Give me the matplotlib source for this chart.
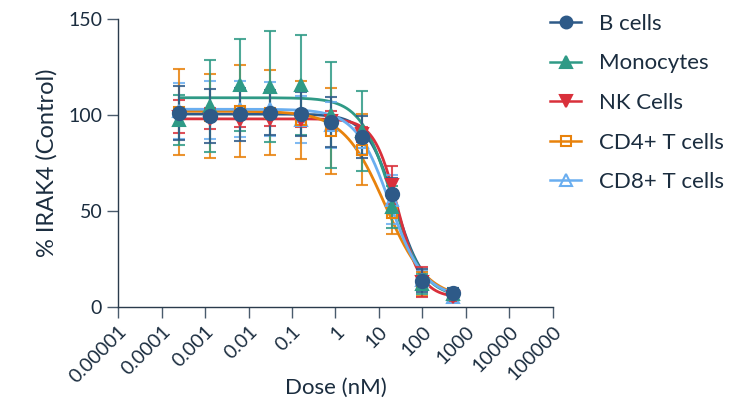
import numpy as np
import matplotlib
matplotlib.use('Agg')
import matplotlib.pyplot as plt

plt.rcParams['font.family'] = ['Lato', 'DejaVu Sans']

# doses (nM), 5-fold dilution series
dose = [0.000256, 0.00128, 0.0064, 0.032, 0.16, 0.8, 4, 20, 100, 500]

b_mean = [101, 99.5, 100.3, 101.2, 100.5, 96.5, 88.4, 58.7, 13.7, 7.5]
b_err = [14, 14, 13.7, 11.7, 11.6, 13, 11, 8.5, 6, 2.5]
mono_mean = [97.4, 104.7, 115.6, 114.7, 115.6, 100, 91.7, 52, 12, 7]
mono_err = [13, 24, 24, 29, 26, 27.5, 21, 11, 5, 3]
nk_mean = [99, 98, 97.5, 98, 97.5, 97, 90, 63.5, 13, 5]
nk_err = [8.6, 5.5, 4, 3.5, 4, 5, 4, 10, 8, 2]
cd4_mean = [101.7, 99.6, 102.3, 101.3, 97.2, 91.7, 82, 49, 12, 6.5]
cd4_err = [22.5, 22, 24, 22, 20.3, 22.5, 18.5, 11, 6, 2]
cd8_mean = [102, 102.5, 103, 103, 97.6, 95, 86, 56, 14, 5]
cd8_err = [14.5, 15, 14.5, 14, 12.4, 12, 6.5, 13, 5, 2]

# 4PL fit parameters: top, bottom, IC50 (nM), hill
b_fit = [100.5, 6, 24, 1.3]
mono_fit = [109, 5, 20, 1.2]
nk_fit = [98, 5, 27, 1.6]
cd4_fit = [102, 4, 14, 0.9]
cd8_fit = [103, 5, 18, 1.1]

labels = ['B cells', 'Monocytes', 'NK Cells', 'CD4+ T cells', 'CD8+ T cells']
colors = ['#2e5a88', '#2f9a86', '#d9303b', '#e8820c', '#6aaef0']

series = [
    (b_mean, b_err, b_fit, 'o', True, 9.5),
    (mono_mean, mono_err, mono_fit, '^', True, 8.5),
    (nk_mean, nk_err, nk_fit, 'v', True, 8.5),
    (cd4_mean, cd4_err, cd4_fit, 's', False, 7.5),
    (cd8_mean, cd8_err, cd8_fit, '^', False, 8),
]

txt = '#1b2d3f'
fig = plt.figure(figsize=(7.34, 4.04), dpi=100)
ax = fig.add_axes([0.161, 0.240, 0.592, 0.713])

xs = np.logspace(np.log10(dose[0]), np.log10(dose[-1]), 300)
handles = []
order = [4, 3, 2, 1, 0]
for i in order:
    mean, err, fit, mk, filled, ms = series[i]
    c = colors[i]
    top, bot, ic50, hill = fit
    ys = bot + (top - bot) / (1 + (xs / ic50) ** hill)
    ax.plot(xs, ys, color=c, lw=2.0, zorder=2 + i * 0.01)
    ax.errorbar(dose, mean, yerr=err, fmt='none', ecolor=c, elinewidth=1.5,
                capsize=4.5, capthick=1.5, alpha=0.85, zorder=3)
    ax.plot(dose, mean, ls='none', marker=mk, ms=ms, color=c,
            mfc=c if filled else 'none', mec=c, mew=1.5, zorder=4 + (5 - i) * 0.1)

for i in range(5):
    mean, err, fit, mk, filled, ms = series[i]
    c = colors[i]
    h, = ax.plot([], [], color=c, lw=1.8, marker=mk, ms=min(ms, 8.5),
                 mfc=c if filled else 'none', mec=c, mew=1.5)
    handles.append(h)

ax.set_xscale('log')
ax.set_xlim(1e-5, 1e5)
ax.set_ylim(0, 150)
ticks = [1e-5, 1e-4, 1e-3, 1e-2, 1e-1, 1, 10, 100, 1000, 10000, 100000]
tick_labels = ['0.00001', '0.0001', '0.001', '0.01', '0.1', '1', '10', '100',
               '1000', '10000', '100000']
ax.set_xticks(ticks)
ax.set_xticklabels(tick_labels, rotation=45, ha='right', rotation_mode='anchor')
ax.xaxis.set_minor_locator(matplotlib.ticker.NullLocator())
ax.set_yticks([0, 50, 100, 150])

for s in ['top', 'right']:
    ax.spines[s].set_visible(False)
for s in ['left', 'bottom']:
    ax.spines[s].set_color('#2a3b4c')
    ax.spines[s].set_linewidth(1.0)
ax.tick_params(axis='both', direction='out', length=8, width=1.0,
               color='#4a5b6c', labelcolor=txt, labelsize=14)

ax.set_xlabel('Dose (nM)', fontsize=16, color=txt)
ax.xaxis.set_label_coords(0.5, -0.245)
ax.set_ylabel('% IRAK4 (Control)', fontsize=17, color=txt, labelpad=8)

fig.legend(handles, labels, loc='upper left', bbox_to_anchor=(0.722, 1.015),
           frameon=False, fontsize=16, labelspacing=0.88, handlelength=1.4,
           handletextpad=0.8, labelcolor=txt)

fig.savefig('out.png', dpi=100)
